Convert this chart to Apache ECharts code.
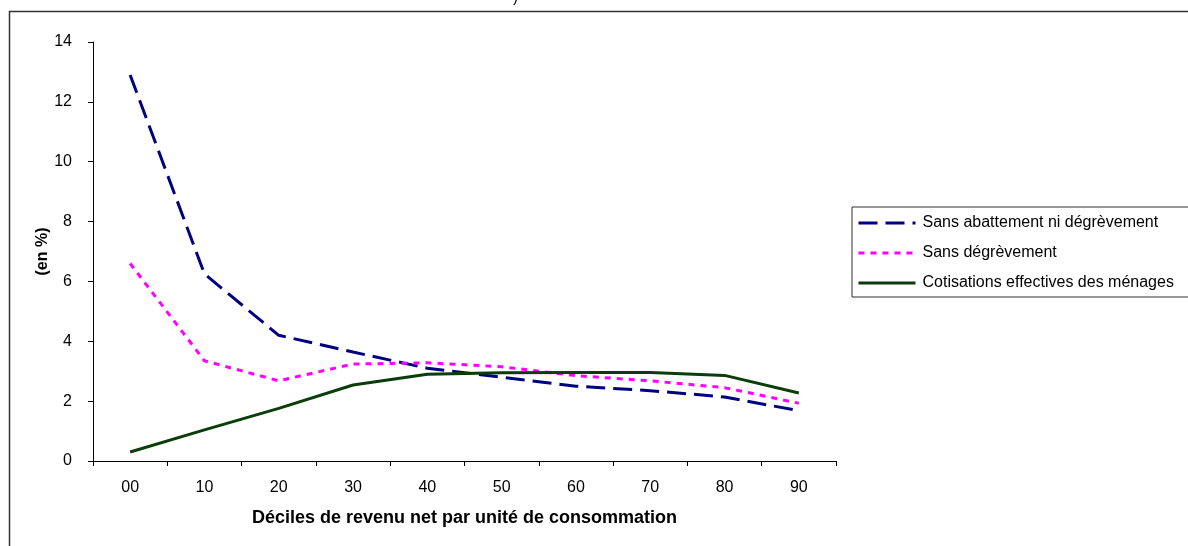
<!DOCTYPE html>
<html><head><meta charset="utf-8">
<script src="https://cdn.jsdelivr.net/npm/echarts@6/dist/echarts.min.js"></script>
<style>html,body{margin:0;padding:0;background:#fff}#c{width:1188px;height:546px}</style>
</head><body><div id="c"></div>
<script>
const categories = ['00','10','20','30','40','50','60','70','80','90'];
const sansAbattement = [12.9, 6.25, 4.2, 3.64, 3.1, 2.8, 2.5, 2.35, 2.14, 1.68];
const sansDegrevement = [6.6, 3.35, 2.68, 3.24, 3.28, 3.15, 2.85, 2.68, 2.45, 1.93];
const cotisations = [0.3, 1.04, 1.76, 2.54, 2.9, 2.95, 2.96, 2.96, 2.86, 2.27];
const seriesNames = ['Sans abattement ni dégrèvement','Sans dégrèvement','Cotisations effectives des ménages'];
const yTicks = {min:0, max:14, interval:2};

const font = 'Liberation Sans, Arial, sans-serif';
const chart = echarts.init(document.getElementById('c'), null, {renderer:'canvas'});
chart.setOption({
  animation:false,
  backgroundColor:'#fff',
  graphic:[
    {type:'polyline', shape:{points:[[9.5,546],[9.5,11.5],[1188,11.5]]}, style:{stroke:'#333', lineWidth:1.5, fill:null}, silent:true},
    {type:'text', left:513, top:-10, style:{text:')', font:'15px '+font, fill:'#000'}}
  ],
  grid:{left:93, right:352, top:42, bottom:85, containLabel:false},
  legend:{
    orient:'vertical', left:852, top:207,
    padding:[8,60,6,5], itemGap:14, itemWidth:57, itemHeight:14,
    borderColor:'#333', borderWidth:1, backgroundColor:'#fff',
    itemStyle:{opacity:0},
    lineStyle:{width:3},
    textStyle:{fontFamily:font, fontSize:16, color:'#000', padding:[0,0,0,2]},
    data:seriesNames
  },
  xAxis:{
    type:'category', data:categories, boundaryGap:true,
    name:'Déciles de revenu net par unité de consommation', nameLocation:'middle', nameGap:48,
    nameMoveOverlap:false,
    nameTextStyle:{fontFamily:font, fontSize:18, fontWeight:'bold', color:'#000'},
    axisLine:{lineStyle:{color:'#000', width:1}},
    axisTick:{show:true, alignWithLabel:false, length:5, lineStyle:{color:'#000'}},
    axisLabel:{fontFamily:font, fontSize:16, color:'#000', margin:19},
    splitLine:{show:false}
  },
  yAxis:{
    type:'value', min:yTicks.min, max:yTicks.max, interval:yTicks.interval,
    name:'(en %)', nameLocation:'middle', nameGap:42, nameRotate:90,
    nameMoveOverlap:false,
    nameTextStyle:{fontFamily:font, fontSize:16, fontWeight:'bold', color:'#000'},
    axisLine:{show:true, lineStyle:{color:'#000', width:1}},
    axisTick:{show:true, length:5, lineStyle:{color:'#000'}},
    axisLabel:{fontFamily:font, fontSize:16, color:'#000', margin:21},
    splitLine:{show:false}
  },
  series:[
    {name:seriesNames[0], type:'line', data:sansAbattement, symbol:'none',
     lineStyle:{color:'#000080', width:3, type:[19,8]}, itemStyle:{color:'#000080'}},
    {name:seriesNames[1], type:'line', data:sansDegrevement, symbol:'none',
     lineStyle:{color:'#ff00ff', width:3, type:[6,6]}, itemStyle:{color:'#ff00ff'}},
    {name:seriesNames[2], type:'line', data:cotisations, symbol:'none',
     lineStyle:{color:'#0a3d0a', width:3}, itemStyle:{color:'#0a3d0a'}}
  ]
});
</script></body></html>
